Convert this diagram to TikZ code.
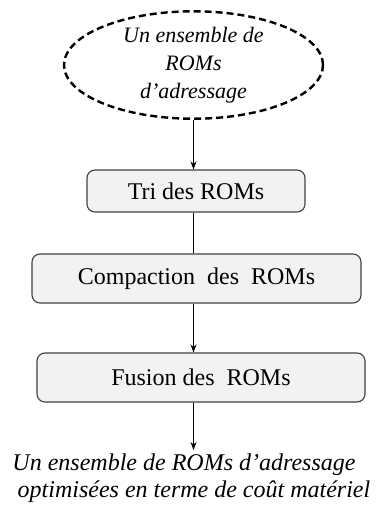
\documentclass[tikz,border=0pt]{standalone}
\usepackage{fontspec}
\setmainfont{Liberation Serif}
\usetikzlibrary{shapes.geometric,arrows.meta}
\begin{document}
\begin{tikzpicture}[x=1pt,y=-1pt,
  stepbox/.style={draw=black!75, fill=black!5, rounded corners=8pt, line width=1.1pt,
    inner sep=0pt, font=\fontsize{24}{27}\selectfont},
  srcell/.style={ellipse, draw=black, line width=2.4pt, dash pattern=on 7pt off 4pt,
    inner sep=0pt, align=center, font=\itshape\fontsize{22}{28}\selectfont},
  outtext/.style={inner sep=0pt, align=center, font=\itshape\fontsize{24}{27}\selectfont},
  arr/.style={line width=1.2pt, -{Stealth[length=8pt,width=6pt]}},
  link/.style={line width=1.2pt}]
\useasboundingbox (0,0) rectangle (378,515);
\node[srcell, minimum width=259pt, minimum height=105pt] (src) at (193.5,65)
  {Un ensemble de\\ROMs\\d’adressage};
\node[stepbox, minimum width=218pt, minimum height=42pt] (tri) at (196,191) {Tri des ROMs};
\node[stepbox, minimum width=329pt, minimum height=49pt] (comp) at (196.5,278.5) {Compaction~ des~ ROMs};
\node[stepbox, minimum width=328pt, minimum height=49pt] (fus) at (201,377.5) {Fusion des~ ROMs};
\node[outtext] (out) at (184,478)
  {Un ensemble de ROMs d’adressage\\\hspace*{20pt}optimisées en terme de coût matériel};
\coordinate (outtop) at (193.5,450);
\draw[arr] (src.south) -- (src.south |- tri.north);
\draw[link] (src.south |- tri.south) -- (src.south |- comp.north);
\draw[arr] (src.south |- comp.south) -- (src.south |- fus.north);
\draw[arr] (src.south |- fus.south) -- (outtop);
\end{tikzpicture}
\end{document}
